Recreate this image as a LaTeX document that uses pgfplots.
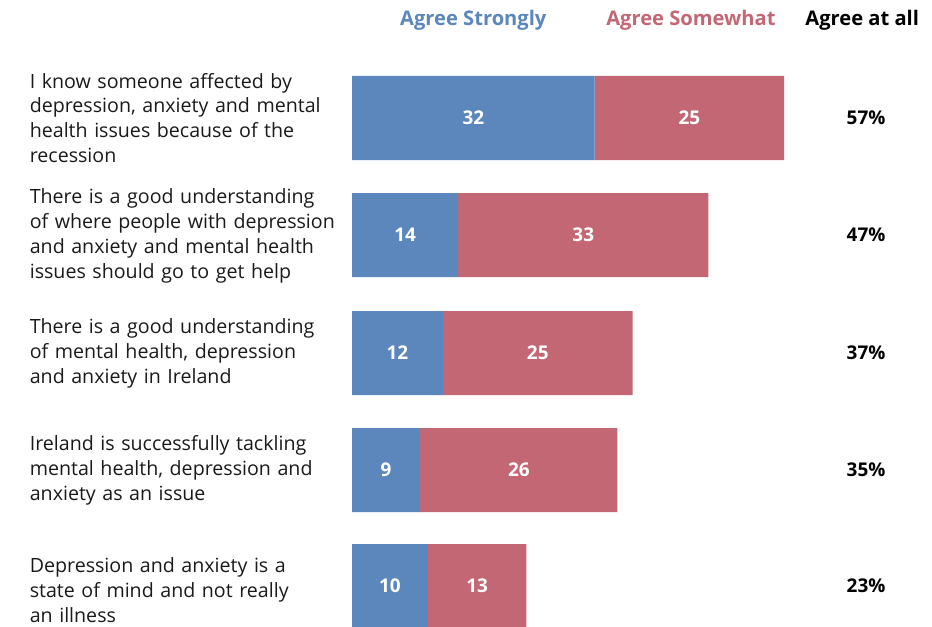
\documentclass[border=0pt]{standalone}
\usepackage{pgfplots}
\pgfplotsset{compat=1.18}
\usepackage{fontspec}
\setmainfont{Open Sans}
\definecolor{cblue}{HTML}{5B87BD}
\definecolor{cred}{HTML}{C46775}
\definecolor{ctext}{HTML}{1A1A1A}
\begin{document}
\begin{tikzpicture}
\path[use as bounding box] (0,0) rectangle (932bp,627bp);
\begin{axis}[
  at={(352bp,0bp)}, anchor=south west,
  scale only axis, width=580bp, height=627bp,
  xmin=0, xmax=76.5, ymin=0, ymax=627, y dir=reverse,
  xbar stacked, bar width=84bp,
  axis line style={draw=none}, xtick=\empty,
  ytick={118,236,353,470,590}, major tick length=0pt,
  yticklabels={
    {I know someone affected by\\depression, anxiety and mental\\health issues because of the\\recession},
    {There is a good understanding\\of where people with depression\\and anxiety and mental health\\issues should go to get help},
    {There is a good understanding\\of mental health, depression\\and anxiety in Ireland},
    {Ireland is successfully tackling\\mental health, depression and\\anxiety as an issue},
    {Depression and anxiety is a\\state of mind and not really\\an illness}},
  yticklabel style={anchor=east, text width=320bp, align=left, inner sep=0pt, xshift=-2bp, font=\fontsize{19.7}{25}\selectfont, text=ctext},
  clip=false,
]
\addplot[fill=cblue, draw=none] coordinates {(32,118) (14,235) (12,353) (9,470) (10,586)};
\addplot[fill=cred, draw=none] coordinates {(25,118) (33,235) (25,353) (26,470) (13,586)};
\node[text=cblue, font=\bfseries\fontsize{20.2}{20}\selectfont] at (axis cs:16,20) {Agree Strongly};
\node[text=cred, font=\bfseries\fontsize{20.2}{20}\selectfont] at (axis cs:44.7,20) {Agree Somewhat};
\node[text=black, font=\bfseries\fontsize{20.2}{20}\selectfont] at (axis cs:67.3,20) {Agree at all};
\end{axis}
\begin{axis}[
  at={(352bp,0bp)}, anchor=south west,
  scale only axis, width=580bp, height=627bp,
  xmin=0, xmax=76.5, ymin=0, ymax=627, y dir=reverse,
  hide axis, clip=false,
]
\addplot[only marks, mark=none, nodes near coords={\pgfplotspointmeta}, point meta=explicit symbolic,
  every node near coord/.append style={anchor=center, text=white, font=\bfseries\fontsize{19}{19}\selectfont}]
  table[x=x, y=y, meta=m] {
x y m
16 118 32
44.5 118 25
7 235 14
30.5 235 33
6 353 12
24.5 353 25
4.5 470 9
22 470 26
5 586 10
16.5 586 13
};
\addplot[only marks, mark=none, nodes near coords={\pgfplotspointmeta\%}, point meta=explicit symbolic,
  every node near coord/.append style={anchor=center, text=black, font=\bfseries\fontsize{19}{19}\selectfont}]
  table[x=x, y=y, meta=m] {
x y m
67.8 118 57
67.8 235 47
67.8 353 37
67.8 470 35
67.8 586 23
};
\end{axis}
\end{tikzpicture}
\end{document}
